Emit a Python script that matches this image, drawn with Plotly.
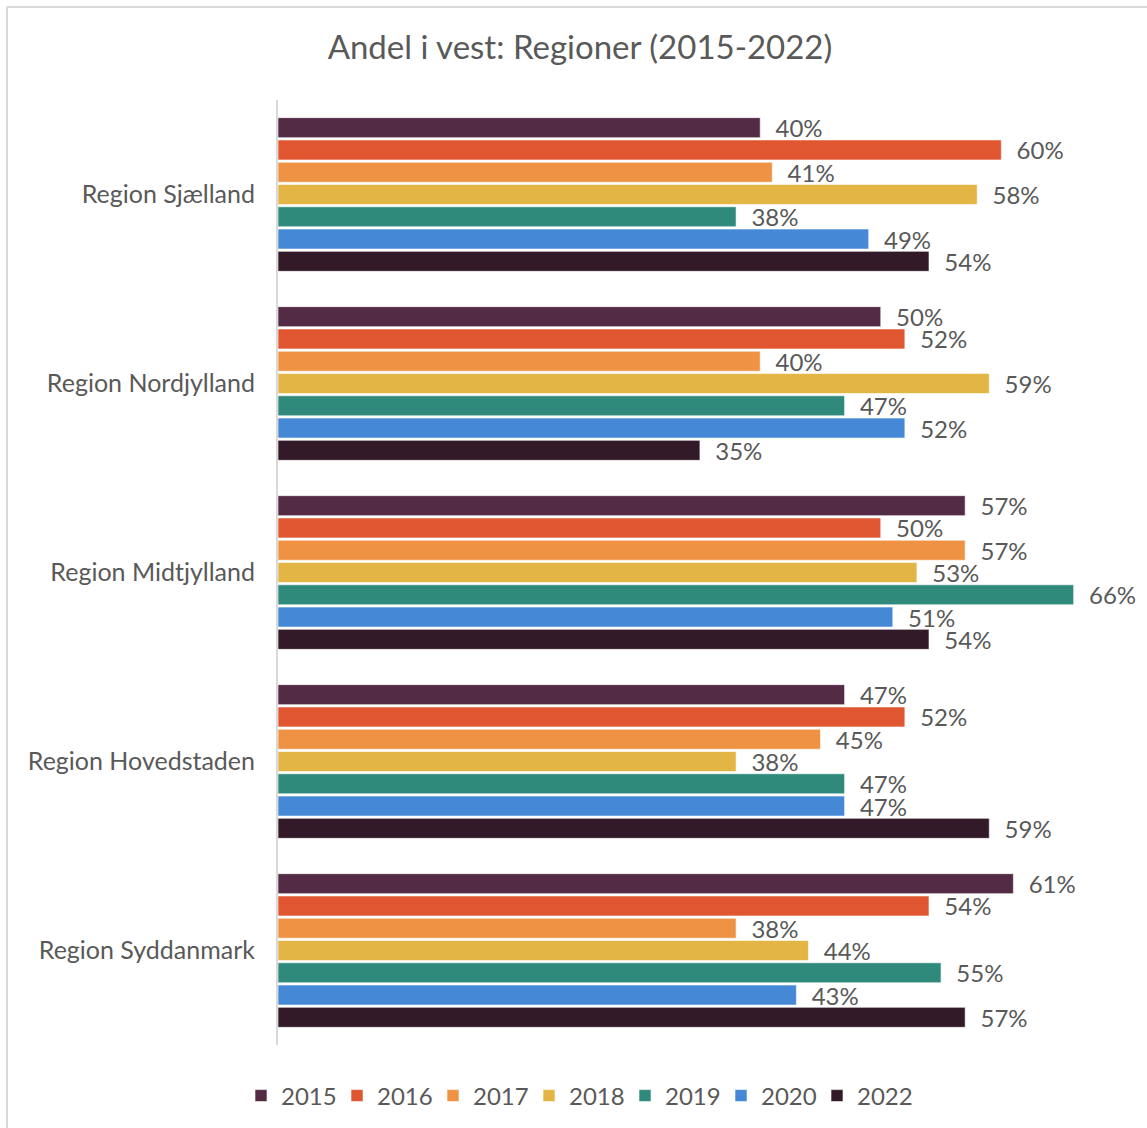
import plotly.graph_objects as go

regions = ["Region Sjælland", "Region Nordjylland", "Region Midtjylland",
           "Region Hovedstaden", "Region Syddanmark"]
years = ["2015", "2016", "2017", "2018", "2019", "2020", "2022"]
v2015 = [40, 50, 57, 47, 61]
v2016 = [60, 52, 50, 52, 54]
v2017 = [41, 40, 57, 45, 38]
v2018 = [58, 59, 53, 38, 44]
v2019 = [38, 47, 66, 47, 55]
v2020 = [49, 52, 51, 47, 43]
v2022 = [54, 35, 54, 59, 57]
series = [v2015, v2016, v2017, v2018, v2019, v2020, v2022]
colors = ["#532b44", "#e05630", "#ef9244", "#e3b544", "#2f8a7c", "#4488d6", "#331a28"]

FONT = "Lato"
GRAY = "#595959"

W, H = 1147, 1128
L, R, T, B = 278, 1, 100, 83
pw, ph = W - L - R, H - T - B

fig = go.Figure()
for yr, vals, col in zip(years, series, colors):
    fig.add_trace(go.Bar(
        y=regions, x=vals, name=yr, orientation="h",
        marker=dict(color=col, line=dict(color="rgba(255,255,255,0.6)", width=1)),
        text=[f"\u00a0\u00a0{v}%" for v in vals],
        textposition="outside", cliponaxis=False, constraintext="none",
        textfont=dict(family=FONT, size=24, color=GRAY),
        hoverinfo="x+y+name",
    ))

def px_x(px):
    return (px - L) / pw

def px_y(py):
    return (H - B - py) / ph

fig.update_layout(
    width=W, height=H,
    margin=dict(l=L, r=R, t=T, b=B),
    paper_bgcolor="white", plot_bgcolor="white",
    barmode="group", bargap=0.175, bargroupgap=0.1,
    title=dict(text="Andel i vest: Regioner (2015-2022)", x=580 / W, xanchor="center",
               y=1 - 47 / H, yanchor="middle",
               font=dict(family=FONT, size=33, color=GRAY)),
    font=dict(family=FONT, color=GRAY),
    showlegend=True,
    legend=dict(orientation="h", x=px_x(577), xanchor="center", y=px_y(1096), yanchor="middle",
                font=dict(family=FONT, size=24, color=GRAY), traceorder="normal",
                itemwidth=30, entrywidth=51, bgcolor="rgba(0,0,0,0)"),
    xaxis=dict(range=[0, 72], showticklabels=False, showgrid=False, zeroline=False,
               showline=False, fixedrange=True),
    yaxis=dict(autorange="reversed", showline=True, linecolor="#d9d9d9", linewidth=2,
               ticks="", showgrid=False, ticklabelstandoff=16,
               tickfont=dict(family=FONT, size=25, color=GRAY)),
    shapes=[
        dict(type="line", xref="paper", yref="paper", x0=px_x(7), x1=px_x(7),
             y0=px_y(H + 5), y1=px_y(7), line=dict(color="#d9d9d9", width=2)),
        dict(type="line", xref="paper", yref="paper", x0=px_x(7), x1=px_x(W + 5),
             y0=px_y(7), y1=px_y(7), line=dict(color="#d9d9d9", width=2)),
    ],
)

fig.write_html("out.html", config={"displayModeBar": False},
               post_script="document.body.style.margin='0';")
